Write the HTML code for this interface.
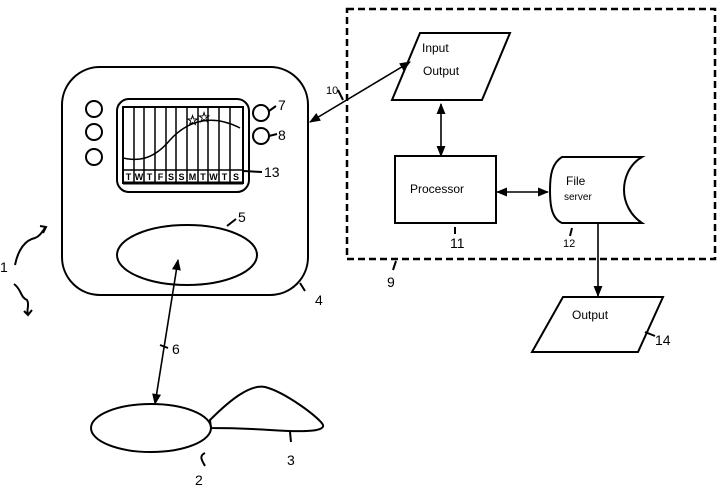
<!DOCTYPE html>
<html><head><style>body{margin:0;background:#fff}svg{display:block}text{font-family:"Liberation Sans",sans-serif;fill:#000}</style></head><body>
<svg width="728" height="491" viewBox="0 0 728 491" xmlns="http://www.w3.org/2000/svg">
<defs><marker id="a" viewBox="0 0 10 10" refX="9" refY="5" markerWidth="7" markerHeight="7" orient="auto-start-reverse"><path d="M0,1L10,5L0,9z" fill="#000"/></marker></defs>
<g fill="none" stroke="#000" stroke-width="2">
<rect x="347" y="9" width="368" height="250" stroke-dasharray="7,4" stroke-width="2.5"/>
<rect x="62" y="67" width="246" height="228" rx="38"/>
<circle cx="94" cy="109" r="8"/><circle cx="94" cy="132" r="8"/><circle cx="94" cy="157" r="8"/>
<circle cx="261" cy="113" r="8"/><circle cx="261" cy="136" r="8"/>
<path d="M269,111L276,106M269,136L277,134M243,171L262,172"/>
<rect x="117" y="99" width="132" height="93" rx="12"/>
<rect x="123" y="107" width="120" height="76"/>
<path d="M123,170H243" stroke-width="1.5"/>
<path d="M123,183H243" stroke-width="3"/>
<path d="M134,107V183M144,107V183M155,107V183M166,107V183M176,107V183M187,107V183M198,107V183M208,107V183M219,107V183M230,107V183" stroke-width="1.5"/>
<path d="M123,158C140,162 155,158 170,140C190,118 215,115 240,128" stroke-width="1.5"/>
<ellipse cx="187" cy="255" rx="70" ry="30"/>
<path d="M227,226L236,219M300,283L305,291"/>
<ellipse cx="151" cy="428" rx="60" ry="24"/>
<path d="M210,420C230,400 250,384 265,387C285,392 320,418 323,425C325,432 300,432 270,430C240,428 215,428 211,428Z"/>
<path d="M290,432L291,442M205,453C198,456 203,462 205,466"/>
<path d="M178,260L155,404" stroke-width="1.6" marker-start="url(#a)" marker-end="url(#a)"/>
<path d="M160,345L168,348"/>
<path d="M310,122L410,62" stroke-width="1.6" marker-start="url(#a)" marker-end="url(#a)"/>
<path d="M338,90L343,100"/>
<polygon points="420,33 510,33 482,100 392,100"/>
<path d="M441,104V156" stroke-width="1.6" marker-start="url(#a)" marker-end="url(#a)"/>
<rect x="395" y="156" width="101" height="67"/>
<path d="M497,192H548" stroke-width="1.6" marker-start="url(#a)" marker-end="url(#a)"/>
<path d="M562,157H642C628,165 624,180 624,190C624,202 630,215 642,223H562C550,218 550,200 550,190C550,175 552,163 562,157Z"/>
<path d="M598,223V296" stroke-width="1.6" marker-end="url(#a)"/>
<polygon points="563,297 663,297 638,352 532,352"/>
<path d="M455,227V234M572,228L570,236M396,261L393,270M645,332L655,336"/>
<path d="M15,265C18,250 25,240 35,238C40,236 42,232 45,228M40,226L46,227L43,233"/>
<path d="M14,284C22,290 20,297 27,300C30,305 26,310 28,314M24,311L28,315L32,310"/>
</g>
<g font-size="9" font-weight="bold" text-anchor="middle">
<text x="128.5" y="180">T</text><text x="139" y="180">W</text><text x="149.5" y="180">T</text><text x="160.5" y="180">F</text><text x="171" y="180">S</text><text x="181.5" y="180">S</text><text x="192.5" y="180">M</text><text x="203" y="180">T</text><text x="213.5" y="180">W</text><text x="224.5" y="180">T</text><text x="236" y="180">S</text>
</g>
<g font-size="14" font-weight="bold" text-anchor="middle">
<text x="192.5" y="125">☆</text><text x="204" y="122">☆</text>
</g>
<g font-size="12">
<text x="422" y="52">Input</text><text x="423" y="75">Output</text>
<text x="410" y="193">Processor</text>
<text x="566" y="185">File</text><text x="564" y="200" font-size="10">server</text>
<text x="572" y="319">Output</text>
</g>
<g font-size="14">
<text x="278" y="110">7</text><text x="278" y="140">8</text><text x="264" y="177">13</text>
<text x="238" y="222">5</text><text x="315" y="305">4</text><text x="172" y="354">6</text>
<text x="195" y="485">2</text><text x="287" y="465">3</text><text x="0" y="272">1</text>
<text x="326" y="94" font-size="11">10</text>
<text x="450" y="248">11</text><text x="563" y="247" font-size="11">12</text>
<text x="387" y="287">9</text><text x="655" y="345">14</text>
</g>
</svg>
</body></html>
